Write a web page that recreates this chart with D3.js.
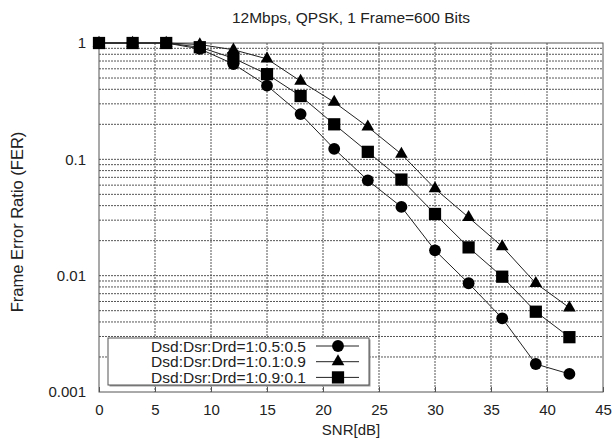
<!DOCTYPE html>
<html>
<head>
<meta charset="utf-8">
<script src="https://cdn.jsdelivr.net/npm/d3@7"></script>
<style>
  body { margin: 0; background: #fff; }
  svg { font-family: "Liberation Sans", Arial, sans-serif; }
</style>
</head>
<body>
<svg id="chart"></svg>
<script>
const snr = [0, 3, 6, 9, 12, 15, 18, 21, 24, 27, 30, 33, 36, 39, 42];
const ferA = [1, 1, 1, 0.89, 0.66, 0.43, 0.245, 0.123, 0.066, 0.039, 0.0165, 0.0086, 0.0043, 0.00174, 0.00143];
const ferB = [1, 1, 1, 0.97, 0.875, 0.73, 0.47, 0.31, 0.19, 0.111, 0.056, 0.0317, 0.0178, 0.0086, 0.0053];
const ferC = [1, 1, 1, 0.92, 0.74, 0.54, 0.35, 0.2, 0.116, 0.067, 0.0339, 0.0175, 0.0098, 0.0049, 0.00296];
const seriesNames = ["Dsd:Dsr:Drd=1:0.5:0.5", "Dsd:Dsr:Drd=1:0.1:0.9", "Dsd:Dsr:Drd=1:0.9:0.1"];
const xTicks = [0, 5, 10, 15, 20, 25, 30, 35, 40, 45];
const yTicks = [1, 0.1, 0.01, 0.001];
const yTickLabels = ["1", "0.1", "0.01", "0.001"];

const svg = d3.select("#chart").attr("width", 615).attr("height", 440);
const margin = { top: 43, right: 12, bottom: 48, left: 99 };
const width = 615 - margin.left - margin.right;
const height = 440 - margin.top - margin.bottom;

const g = svg.append("g").attr("transform", `translate(${margin.left},${margin.top})`);

const x = d3.scaleLinear().domain([0, 45]).range([0, width]);
const y = d3.scaleLog().domain([0.001, 1]).range([height, 0]);

// grid (minor log lines + vertical every 5)
const minor = [];
[0.001, 0.01, 0.1].forEach(d => { for (let k = 1; k < 10; k++) minor.push(d * k); });
g.append("g").selectAll("line").data(minor.slice(1)).enter().append("line")
  .attr("x1", 0).attr("x2", width)
  .attr("y1", d => y(d)).attr("y2", d => y(d))
  .attr("stroke", "#555").attr("stroke-width", 1).attr("stroke-dasharray", "2,1");
g.append("g").selectAll("line").data(xTicks.slice(1, -1)).enter().append("line")
  .attr("x1", d => x(d)).attr("x2", d => x(d))
  .attr("y1", 0).attr("y2", height)
  .attr("stroke", "#555").attr("stroke-width", 1).attr("stroke-dasharray", "2,1");

// frame
g.append("rect").attr("width", width).attr("height", height)
  .attr("fill", "none").attr("stroke", "#555").attr("stroke-width", 1);

// axes
const xAxis = g.append("g").attr("transform", `translate(0,${height})`)
  .call(d3.axisBottom(x).tickValues(xTicks).tickSize(-5).tickPadding(12));
const yAxis = g.append("g")
  .call(d3.axisLeft(y).tickValues(yTicks).tickFormat((d, i) => yTickLabels[i]).tickSize(0).tickPadding(13));
[xAxis, yAxis].forEach(a => {
  a.select(".domain").remove();
  a.selectAll("line").attr("stroke", "#555");
  a.selectAll("text").attr("font-size", 15).attr("fill", "#222").attr("font-family", "Liberation Sans, Arial, sans-serif");
});

// titles
svg.append("text").attr("x", 351).attr("y", 23).attr("text-anchor", "middle")
  .attr("font-size", 15.5).attr("fill", "#222").text("12Mbps, QPSK, 1 Frame=600 Bits");
svg.append("text").attr("x", 351).attr("y", 435).attr("text-anchor", "middle")
  .attr("font-size", 15).attr("fill", "#222").text("SNR[dB]");
svg.append("text").attr("transform", "translate(23,222) rotate(-90)").attr("text-anchor", "middle")
  .attr("font-size", 16.5).attr("fill", "#222").text("Frame Error Ratio (FER)");

// series
const line = d3.line().x(d => x(d[0])).y(d => y(d[1]));
const allSeries = [ferA, ferB, ferC];
const shapes = [d3.symbolCircle, d3.symbolTriangle, d3.symbolSquare];
const sizes = [110, 70, 150];

allSeries.forEach((vals, i) => {
  const pts = snr.map((s, j) => [s, vals[j]]);
  g.append("path").datum(pts).attr("d", line)
    .attr("fill", "none").attr("stroke", "#222").attr("stroke-width", 1);
});
allSeries.forEach((vals, i) => {
  const pts = snr.map((s, j) => [s, vals[j]]);
  g.append("g").selectAll("path").data(pts).enter().append("path")
    .attr("transform", d => `translate(${x(d[0])},${y(d[1])})`)
    .attr("d", d3.symbol().type(shapes[i]).size(sizes[i]))
    .attr("fill", "#000");
});

// legend
const lg = svg.append("g").attr("transform", "translate(108,338)");
lg.append("rect").attr("x", 1.5).attr("y", 1.5).attr("width", 261).attr("height", 47).attr("fill", "#999");
lg.append("rect").attr("width", 261).attr("height", 47).attr("fill", "#fff").attr("stroke", "#555");
const rows = lg.selectAll("g.row").data(seriesNames).enter().append("g")
  .attr("transform", (d, i) => `translate(0,${8 + i * 15.7})`);
rows.append("text").attr("x", 198).attr("dy", "0.36em").attr("text-anchor", "end")
  .attr("font-size", 15.5).attr("textLength", 155).attr("lengthAdjust", "spacingAndGlyphs")
  .attr("fill", "#222").text(d => d);
rows.append("line").attr("x1", 208).attr("x2", 251).attr("stroke", "#222");
rows.append("path").attr("transform", "translate(230,0)")
  .attr("d", (d, i) => d3.symbol().type(shapes[i]).size(sizes[i])())
  .attr("fill", "#000");
</script>
</body>
</html>
